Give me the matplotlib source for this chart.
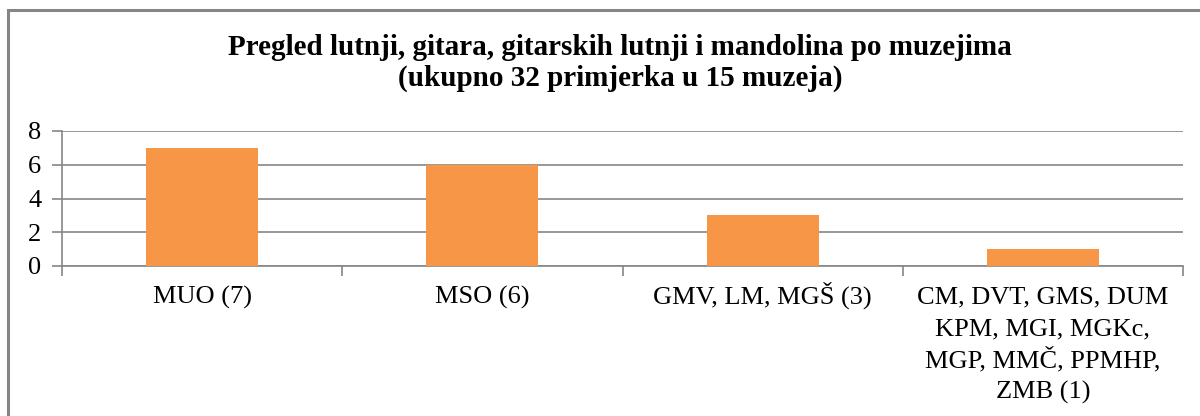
import matplotlib
matplotlib.use("Agg")
import matplotlib.pyplot as plt
from matplotlib.patches import Rectangle

plt.rcParams['font.family'] = ['Liberation Serif', 'DejaVu Serif']

categories = ['MUO (7)', 'MSO (6)', 'GMV, LM, MGŠ (3)',
              'CM, DVT, GMS, DUM\nKPM, MGI, MGKc,\nMGP, MMČ, PPMHP,\nZMB (1)']
counts = [7, 6, 3, 1]
yticks = [0, 2, 4, 6, 8]
title = 'Pregled lutnji, gitara, gitarskih lutnji i mandolina po muzejima\n(ukupno 32 primjerka u 15 muzeja)'

grey = '#868686'

fig = plt.figure(figsize=(12, 4.16), dpi=100)
fig.patches.append(Rectangle((8 / 1200, -0.1), 1.2, 1 - 10 / 416 + 0.1,
                             transform=fig.transFigure, fill=False,
                             edgecolor=grey, linewidth=2.2, zorder=0))

ax = fig.add_axes([62 / 1200, 1 - 266 / 416, 1121 / 1200, 135 / 416])
x = range(len(categories))
ax.bar(x, counts, width=0.4, color='#F79646', zorder=3)

ax.set_xlim(-0.5, len(categories) - 0.5)
ax.set_ylim(0, 8)
ax.set_yticks(yticks)
ax.set_xticks(x)
ax.set_xticklabels([])
ax.set_xticks([i - 0.5 for i in range(len(categories) + 1)], minor=True)
ax.tick_params(axis='x', which='major', length=0)
ax.tick_params(axis='x', which='minor', length=7, width=1.2, color=grey, direction='out')
ax.tick_params(axis='y', length=7, width=1.2, color=grey, labelsize=19, pad=8)

# category labels, line by line on a common baseline grid (like Excel)
for i, lab in enumerate(categories):
    for k, line in enumerate(lab.split('\n')):
        ax.annotate(line, xy=(i, 0), xycoords=('data', 'axes fraction'),
                    xytext=(0, -27 - 22.9 * k), textcoords='offset points',
                    ha='center', va='baseline', fontsize=19)

ax.grid(axis='y', color=grey, linewidth=1.2, zorder=0)
for s in ['top', 'right']:
    ax.spines[s].set_visible(False)
for s in ['left', 'bottom']:
    ax.spines[s].set_color(grey)
    ax.spines[s].set_linewidth(1.2)

fig.text(620 / 1200, 1 - 63 / 416, title, ha='center', va='center',
         fontsize=21, fontweight='bold', linespacing=1.15)

fig.savefig('out.png', dpi=100)
